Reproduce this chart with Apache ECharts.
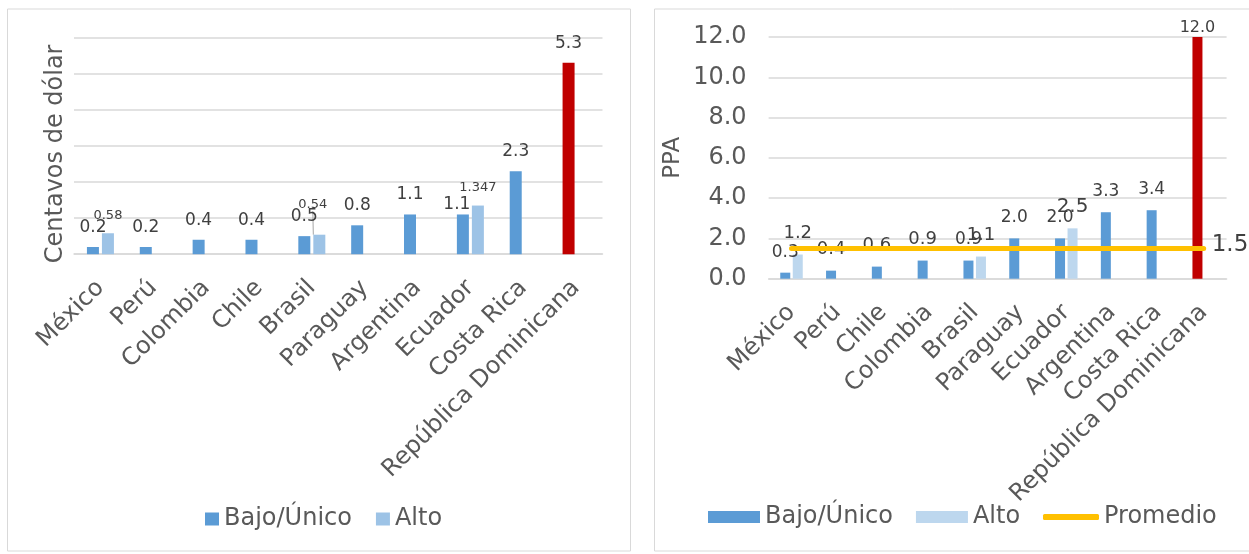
<!DOCTYPE html>
<html>
<head>
<meta charset="utf-8">
<script src="https://cdn.jsdelivr.net/npm/echarts@6/dist/echarts.min.js"></script>
<style>
html,body{margin:0;padding:0;background:#fff;}
#main{width:1249px;height:554px;}
</style>
</head>
<body>
<div id="main"></div>
<script>
// ---- Data (left chart: centavos de dólar) ----
const categoriesA = ['México','Perú','Colombia','Chile','Brasil','Paraguay','Argentina','Ecuador','Costa Rica','República Dominicana'];
const bajoA = [0.2, 0.2, 0.4, 0.4, 0.5, 0.8, 1.1, 1.1, 2.3, 5.3];
const altoA = [0.58, null, null, null, 0.54, null, null, 1.347, null, null];
const yMaxA = 6;
const yIntervalA = 1;

// ---- Data (right chart: PPA) ----
const categoriesB = ['México','Perú','Chile','Colombia','Brasil','Paraguay','Ecuador','Argentina','Costa Rica','República Dominicana'];
const bajoB = [0.3, 0.4, 0.6, 0.9, 0.9, 2.0, 2.0, 3.3, 3.4, 12.0];
const altoB = [1.2, null, null, null, 1.1, null, 2.5, null, null, null];
const promedioB = [1.5, 1.5, 1.5, 1.5, 1.5, 1.5, 1.5, 1.5, 1.5, 1.5];
const yMaxB = 12;
const yIntervalB = 2;

const highlightCountry = 'República Dominicana';

// ---- Styles ----
const C_BAJO = '#5B9BD5', C_ALTO_A = '#9DC3E6', C_ALTO_B = '#BDD7EE', C_RED = '#C00000', C_PROM = '#FFC000';
const TXT = '#595959', LBL = '#404040', GRID = '#D9D9D9';
const FONT = 'DejaVu Sans';

// label tweaks (by index) -- presentation only
const tweakA_bajo = {7: {offset: [-6, 9.5]}};
const tweakA_alto = {0: {fontSize: 13}, 4: {fontSize: 13}, 7: {fontSize: 13}};
const tweakB_bajo = {9: {offset: [0, 11], fontSize: 16}};
const tweakB_alto = {0: {fontSize: 18}, 4: {fontSize: 18}, 6: {fontSize: 20}};
const bigB_bajo = {1: 18, 2: 18, 3: 18};

function buildBar(values, cats, tweaks, extraFont) {
  return values.map((v, i) => {
    if (v === null) return null;
    const item = {value: v};
    if (cats && cats[i] === highlightCountry) item.itemStyle = {color: C_RED};
    const t = tweaks[i];
    if (t || (extraFont && extraFont[i])) {
      item.label = {};
      if (t && t.offset) item.label.offset = t.offset;
      if (t && t.fontSize) item.label.fontSize = t.fontSize;
      if (extraFont && extraFont[i]) item.label.fontSize = extraFont[i];
    }
    return item;
  });
}

const chart = echarts.init(document.getElementById('main'), null, {renderer: 'canvas'});

const catAxis = (gi, data) => ({
  type: 'category', gridIndex: gi, data: data,
  axisTick: {show: false},
  axisLine: {lineStyle: {color: GRID, width: 1.5}},
  axisLabel: {rotate: 45, interval: 0, fontSize: 24, color: TXT, margin: 30, fontFamily: FONT}
});

const option = {
  animation: false,
  backgroundColor: '#fff',
  textStyle: {fontFamily: FONT},
  graphic: [
    {type: 'rect', shape: {x: 7.5, y: 9, width: 623, height: 542}, style: {fill: 'none', stroke: GRID, lineWidth: 1}, silent: true},
    {type: 'rect', shape: {x: 654.5, y: 9, width: 700, height: 542}, style: {fill: 'none', stroke: GRID, lineWidth: 1}, silent: true}
  ],
  grid: [
    {left: 74, right: 646.5, top: 37.5, bottom: 299.8},
    {left: 768.6, right: 22.4, top: 37, bottom: 275.3}
  ],
  xAxis: [catAxis(0, categoriesA), catAxis(1, categoriesB)],
  yAxis: [
    {type: 'value', gridIndex: 0, min: 0, max: yMaxA, interval: yIntervalA,
     axisLabel: {show: false}, axisLine: {show: false}, axisTick: {show: false},
     splitLine: {lineStyle: {color: GRID, width: 1.5}},
     name: 'Centavos de dólar', nameLocation: 'middle', nameGap: 6,
     nameTextStyle: {fontSize: 24, color: TXT, fontFamily: FONT, padding: [0, 16, 0, 0]}},
    {type: 'value', gridIndex: 1, min: 0, max: yMaxB, interval: yIntervalB,
     axisLabel: {formatter: v => v.toFixed(1), fontSize: 24, color: TXT, margin: 22, fontFamily: FONT},
     axisLine: {show: false}, axisTick: {show: false},
     splitLine: {lineStyle: {color: GRID, width: 1.5}},
     name: 'PPA', nameLocation: 'middle', nameGap: 84,
     nameTextStyle: {fontSize: 23, color: TXT, fontFamily: FONT}}
  ],
  legend: [
    {left: 205, top: 507, padding: 0, itemWidth: 14, itemHeight: 13, itemGap: 24,
     textStyle: {fontSize: 24, color: TXT, fontFamily: FONT},
     data: [{name: 'Bajo/Único', itemStyle: {color: C_BAJO}, icon: 'rect'}, {name: 'Alto', itemStyle: {color: C_ALTO_A}, icon: 'rect'}],
     selectedMode: false},
    {left: 708, top: 505, padding: 0, itemWidth: 52, itemHeight: 12, itemGap: 23,
     textStyle: {fontSize: 24, color: TXT, fontFamily: FONT},
     data: [{name: 'Bajo/Único', itemStyle: {color: C_BAJO}, icon: 'rect'}, {name: 'Alto', itemStyle: {color: C_ALTO_B}, icon: 'rect'}],
     selectedMode: false},
    {left: 1043, top: 505, padding: 0, itemWidth: 56, itemHeight: 6, itemGap: 22,
     textStyle: {fontSize: 24, color: TXT, fontFamily: FONT},
     data: [{name: 'Promedio', icon: 'roundRect', itemStyle: {color: C_PROM}}],
     selectedMode: false}
  ],
  series: [
    {name: 'Bajo/Único', type: 'bar', xAxisIndex: 0, yAxisIndex: 0, barWidth: 12, barGap: '25%',
     itemStyle: {color: C_BAJO},
     label: {show: true, position: 'top', distance: 11, fontSize: 17, color: LBL, fontFamily: FONT, formatter: p => String(p.value)},
     data: buildBar(bajoA, categoriesA, tweakA_bajo)},
    {name: 'Alto', type: 'bar', xAxisIndex: 0, yAxisIndex: 0, barWidth: 12, barGap: '25%',
     itemStyle: {color: C_ALTO_A},
     label: {show: true, position: 'top', distance: 11, fontSize: 17, color: LBL, fontFamily: FONT, formatter: p => String(p.value)},
     labelLayout: p => (p.dataIndex === 4 ? {dx: -6.5, dy: -12.5} : {}),
     labelLine: {show: false},
     data: buildBar(altoA, categoriesA, tweakA_alto).map((d, i) => (i === 4 && d ? Object.assign(d, {labelLine: {show: true, lineStyle: {color: '#A6A6A6', width: 1}}}) : d))},
    {name: 'Bajo/Único', type: 'bar', xAxisIndex: 1, yAxisIndex: 1, barWidth: 10, barGap: '25%',
     itemStyle: {color: C_BAJO},
     label: {show: true, position: 'top', distance: 12, fontSize: 17, color: LBL, fontFamily: FONT, formatter: p => p.value.toFixed(1)},
     data: buildBar(bajoB, categoriesB, tweakB_bajo, bigB_bajo)},
    {name: 'Alto', type: 'bar', xAxisIndex: 1, yAxisIndex: 1, barWidth: 10, barGap: '25%',
     itemStyle: {color: C_ALTO_B},
     label: {show: true, position: 'top', distance: 12, fontSize: 17, color: LBL, fontFamily: FONT, formatter: p => p.value.toFixed(1)},
     data: buildBar(altoB, categoriesB, tweakB_alto)},
    {name: 'Promedio', type: 'line', xAxisIndex: 1, yAxisIndex: 1, z: 3,
     symbol: 'none', itemStyle: {color: C_PROM},
     lineStyle: {color: C_PROM, width: 5, cap: 'round'},
     endLabel: {show: true, formatter: p => p.value.toFixed(1), fontSize: 23, color: LBL, fontFamily: FONT, distance: 8, offset: [0, -3]},
     data: promedioB}
  ]
};
chart.setOption(option);
</script>
</body>
</html>
